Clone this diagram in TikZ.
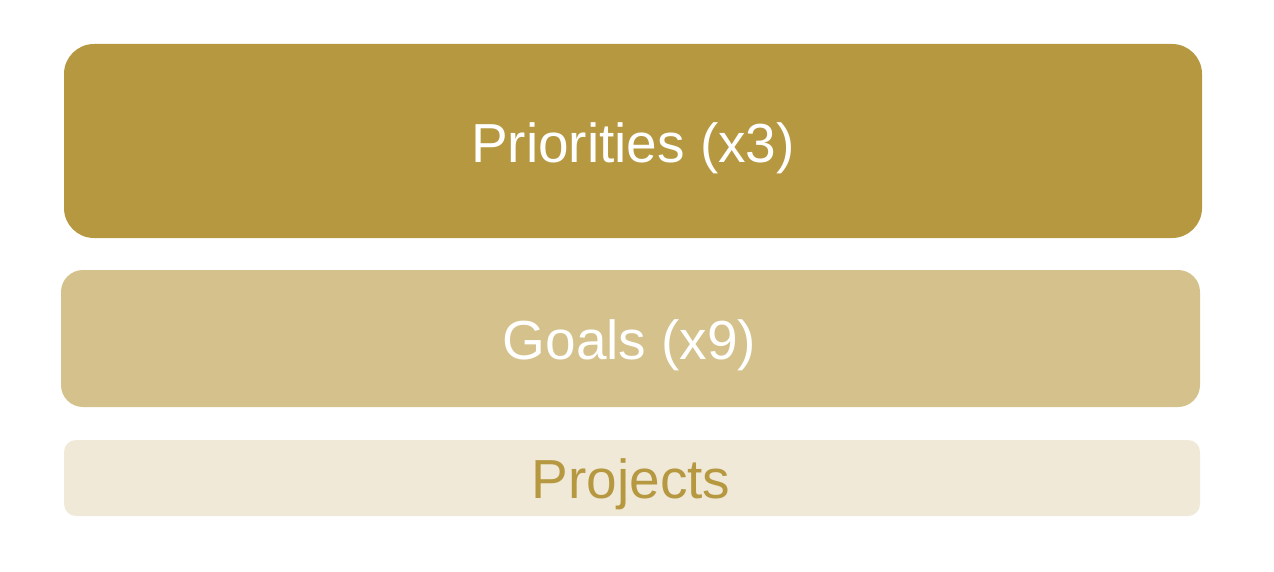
\documentclass[tikz,border=0pt]{standalone}
\usepackage{fontspec}
\setmainfont{Liberation Sans}
\definecolor{gold}{HTML}{B69840}
\definecolor{sand}{HTML}{D4C18C}
\definecolor{cream}{HTML}{F1E9D8}
\begin{document}
\begin{tikzpicture}[x=1pt,y=-1pt,
  tier/.style={inner sep=0pt, outer sep=0pt, anchor=north west},
  label/.style={font=\fontsize{55}{60}\selectfont}]
\useasboundingbox (0,0) rectangle (1274,572);
\fill[white] (0,0) rectangle (1274,572);
% three stacked tiers, largest on top
\node[tier, fill=gold, rounded corners=30pt, minimum width=1138pt, minimum height=194pt] (prio) at (64,44) {};
\node[tier, fill=sand, rounded corners=22pt, minimum width=1139pt, minimum height=137pt] (goals) at (61,270) {};
\node[tier, fill=cream, rounded corners=12pt, minimum width=1136pt, minimum height=76pt] (proj) at (64,440) {};
% tier captions
\node[label, text=white] (prioT) at ([yshift=-7pt]prio.center) {Priorities (x3)};
\node[label, text=white] (goalsT) at ([xshift=-1pt,yshift=-7pt]goals.center) {Goals (x9)};
\node[label, text=gold] (projT) at ([xshift=-1pt,yshift=-6pt]proj.center) {Projects};
\end{tikzpicture}
\end{document}
